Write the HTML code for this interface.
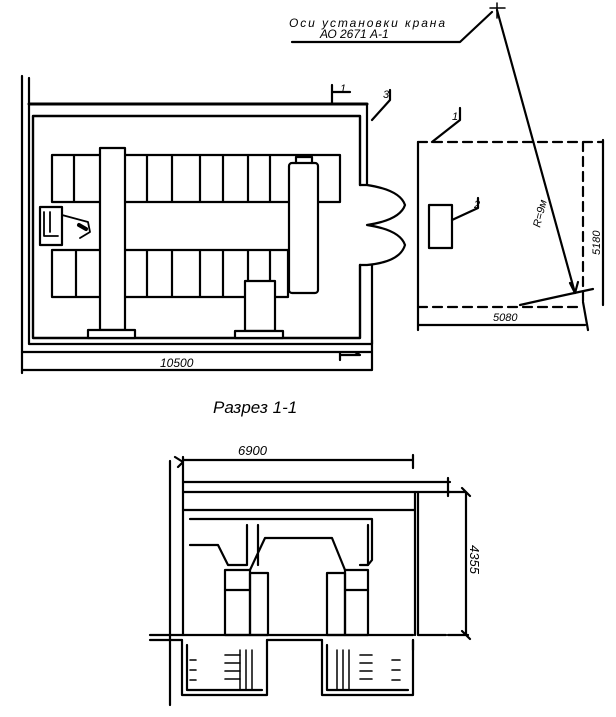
<!DOCTYPE html>
<html><head><meta charset="utf-8"><style>
html,body{margin:0;padding:0;background:#fff;}
svg{display:block}
text{font-family:"Liberation Sans",sans-serif;font-style:italic;fill:#000}
</style></head><body>
<svg width="616" height="717" viewBox="0 0 616 717" xmlns="http://www.w3.org/2000/svg" fill="none" stroke="#000" stroke-width="2.2" stroke-linecap="round" stroke-linejoin="round">
<!-- PLAN -->
<path d="M22 76 V373 M29 78 V344 H372 V265 M29 104 H367 V185"/>
<path d="M360 185 V116 H33 V338 H360 V265" stroke-width="2.4"/>
<path d="M29 104 H367" stroke-width="3"/>
<!-- dimension 10500 -->
<path d="M22 352 H372 M22 370 H372 V340 M340 355 H360 L355 352 M340 352 V360"/>
<text x="160" y="367" font-size="12" stroke="none">10500</text>
<!-- door -->
<path d="M360 185 L367 185 Q400 190 405 205 Q400 220 367 225 Q400 230 405 245 Q400 262 367 265 L360 265"/>
<!-- top cabinets -->
<path d="M52 155 H340 V202 H52 Z M74 155 V202 M147 155 V202 M172 155 V202 M200 155 V202 M223 155 V202 M248 155 V202 M270 155 V202"/>
<!-- bottom cabinets -->
<path d="M52 250 H288 V297 H52 Z M76 250 V297 M147 250 V297 M172 250 V297 M200 250 V297 M223 250 V297 M248 250 V297 M270 250 V297"/>
<!-- left crane beam -->
<rect x="100" y="148" width="25" height="182" fill="#fff"/>
<rect x="88" y="330" width="47" height="8" fill="#fff"/>
<!-- right beam -->
<rect x="289" y="163" width="29" height="130" rx="3" fill="#fff"/>
<path d="M296 163 V157 H312 V163"/>
<!-- column -->
<rect x="245" y="281" width="30" height="50" fill="#fff"/>
<rect x="235" y="331" width="48" height="7" fill="#fff"/>
<!-- left unit -->
<rect x="40" y="207" width="22" height="38" fill="#fff"/>
<path d="M44 212 V236 M50 212 V232 M44 236 H58 M62 215 L88 222 L90 232 L80 238" stroke-width="1.8"/>
<path d="M79 225 L86 229" stroke-width="4"/>
<!-- labels 1 and 3 -->
<path d="M332 104 V85 M332 92 H350"/>
<text x="340" y="92" font-size="11" stroke="none">1</text>
<path d="M372 120 L390 100 V90"/>
<text x="383" y="98" font-size="11" stroke="none">3</text>
<!-- right zone -->
<path d="M418 142 V330 M418 325 H585 M603 140 V305 M583 302 L588 330"/>
<path d="M418 142 H603 M583 142 V305 M418 307 H583" stroke-dasharray="9 6"/>
<path d="M432 142 L460 120 V108"/>
<text x="452" y="120" font-size="11" stroke="none">1</text>
<rect x="429" y="205" width="23" height="43"/>
<path d="M452 220 L478 208 V198"/>
<text x="474" y="208" font-size="11" stroke="none">2</text>
<path d="M497 10 L575 293 M570 283 L575 293 L578 282"/>
<path d="M520 305 Q560 296 593 289"/>
<path d="M490 8 H505 M497 3 V18" stroke-width="1.5"/>
<text x="0" y="0" font-size="11" stroke="none" transform="translate(540 228) rotate(-76)">R=9м</text>
<text x="0" y="0" font-size="11" stroke="none" transform="translate(600 255) rotate(-90)">5180</text>
<text x="493" y="321" font-size="11" stroke="none">5080</text>
<!-- top caption -->
<path d="M292 42 H460 L492 12"/>
<text x="289" y="27" font-size="12" stroke="none" textLength="156">Оси установки крана</text>
<text x="320" y="38" font-size="12" stroke="none">АО 2671 А-1</text>
<!-- Section title -->
<text x="213" y="413" font-size="17" stroke="none">Разрез 1-1</text>
<!-- SECTION -->
<path d="M170 461 V705 M183 457 V635 M175 457 L183 462 L178 467"/>
<path d="M183 460 H413 M413 455 V468"/>
<text x="238" y="455" font-size="13" stroke="none">6900</text>
<path d="M183 482 H450 M183 492 H450 M448 478 V496"/>
<path d="M183 510 H415 M415 492 V635 M418 492 V635 H446"/>
<path d="M448 492 H466 M466 492 V635 M448 635 H468 M462 488 L470 496 M462 631 L470 639"/>
<text x="0" y="0" font-size="13" stroke="none" transform="translate(470 545) rotate(90)">4355</text>
<!-- crane -->
<path d="M190 519 H372 V560 L368 565 H360"/>
<path d="M190 545 H218 L228 565 H247 V525 M258 525 V565 M250 570 L265 538 H332 L345 570 M368 525 V565"/>
<rect x="225" y="570" width="25" height="65"/>
<rect x="250" y="573" width="18" height="62"/>
<rect x="327" y="573" width="18" height="62"/>
<rect x="345" y="570" width="23" height="65"/>
<path d="M225 590 H250 M345 590 H368"/>
<!-- floor & pits -->
<path d="M150 635 H413 M150 640 H182 M267 640 H322 M413 640 V650"/>
<path d="M182 640 V695 H267 V640 M187 645 V690 H262 M322 640 V695 H413 V640 M327 645 V690 H408"/>
<path d="M240 650 V690 M246 650 V690 M252 650 V690 M337 650 V690 M343 650 V690 M349 650 V690" stroke-width="1.5"/>
<path d="M190 660 H196 M190 670 H196 M190 680 H196 M225 655 H240 M225 663 H240 M225 671 H240 M225 679 H240 M360 655 H372 M360 663 H372 M360 671 H372 M360 679 H372 M392 660 H400 M392 670 H400 M392 680 H400" stroke-width="1.6"/>
</svg>
</body></html>
